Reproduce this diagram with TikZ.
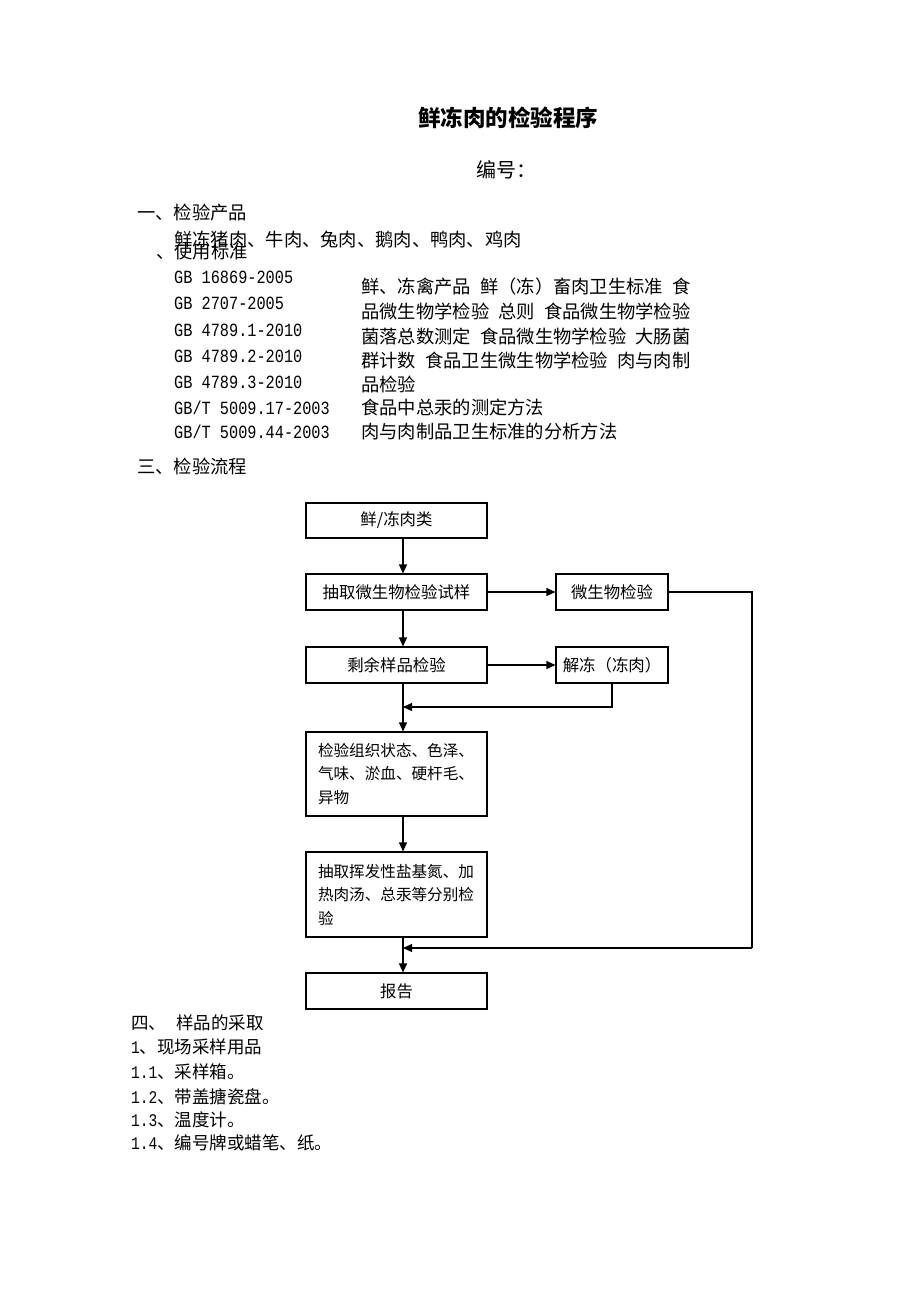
\documentclass[tikz,border=0pt]{standalone}
\usepackage{fontspec}
\setmainfont{Noto Sans CJK SC}
\newfontfamily\mono[FakeStretch=0.82]{Liberation Mono}
\usetikzlibrary{arrows.meta}
\newcommand{\dg}[1]{{\mono\fontsize{17.8}{20}\selectfont #1}}
\begin{document}
\begin{tikzpicture}[x=1pt,y=-1pt,
  box/.style={draw, line width=1.1pt, minimum width=181pt, minimum height=36pt, inner sep=0pt, font=\fontsize{16.4}{20}\selectfont},
  sbox/.style={box, minimum width=112pt},
  mbox/.style={draw, line width=1.1pt, minimum width=181pt, minimum height=85pt, inner xsep=12pt, inner ysep=0pt, text width=157pt, align=left, font=\fontsize{15.6}{23.5}\selectfont},
  arr/.style={-{Triangle[length=9pt,width=8pt]}, line width=1.1pt},
  ln/.style={line width=1.1pt},
  txt/.style={anchor=west, inner sep=0pt, font=\fontsize{18.3}{22}\selectfont},
  code/.style={anchor=west, inner sep=0pt, font=\mono\fontsize{18.6}{20}\selectfont},
  itm/.style={anchor=west, inner sep=0pt, font=\fontsize{17.5}{21}\selectfont}]
\useasboundingbox (0,0) rectangle (920,1302);

% header
\node[inner sep=0pt, font=\bfseries\fontsize{22.5}{26}\selectfont] (title) at (508,118) {鲜冻肉的检验程序};
\node[anchor=west, inner sep=0pt, font=\fontsize{20}{24}\selectfont] (num) at (476,170) {编号：};

\node[txt] (s1) at (137,213) {一、检验产品};
\node[txt] (p1) at (174,240) {鲜冻猪肉、牛肉、兔肉、鹅肉、鸭肉、鸡肉};
\node[txt] (s2) at (156,252) {、使用标准};

\node[code] (g1) at (174,277) {GB 16869-2005};
\node[code] (g2) at (174,303) {GB 2707-2005};
\node[code] (g3) at (174,330) {GB 4789.1-2010};
\node[code] (g4) at (174,356) {GB 4789.2-2010};
\node[code] (g5) at (174,382) {GB 4789.3-2010};
\node[code] (g6) at (174,408) {GB/T 5009.17-2003};
\node[code] (g7) at (174,432) {GB/T 5009.44-2003};

\node[txt] (r1) at (361,287) {鲜、冻禽产品\hspace{0.5em}鲜（冻）畜肉卫生标准\hspace{0.5em}食};
\node[txt] (r2) at (361,311) {品微生物学检验\hspace{0.5em}总则\hspace{0.5em}食品微生物学检验};
\node[txt] (r3) at (361,336) {菌落总数测定\hspace{0.5em}食品微生物学检验\hspace{0.5em}大肠菌};
\node[txt] (r4) at (361,360) {群计数\hspace{0.5em}食品卫生微生物学检验\hspace{0.5em}肉与肉制};
\node[txt] (r5) at (361,384) {品检验};
\node[txt] (r6) at (361,408) {食品中总汞的测定方法};
\node[txt] (r7) at (361,432) {肉与肉制品卫生标准的分析方法};

\node[txt] (s3) at (137,466) {三、检验流程};

% flowchart
\node[box, minimum height=35pt] (b1) at (396.5,520.5) {鲜/冻肉类};
\node[box] (b2) at (396.5,592) {抽取微生物检验试样};
\node[box] (b3) at (396.5,665) {剩余样品检验};
\node[sbox] (mb) at (612,592) {微生物检验};
\node[sbox] (jd) at (612,665) {解冻（冻肉）};
\node[mbox, minimum height=84pt] (b4) at (396.5,774) {检验组织状态、色泽、\\气味、淤血、硬杆毛、\\异物};
\node[mbox] (b5) at (396.5,894.5) {抽取挥发性盐基氮、加\\热肉汤、总汞等分别检\\验};
\node[box] (b6) at (396.5,991) {报告};

\coordinate (jx) at (403,0);
\coordinate (j1) at (403,707);
\coordinate (j2) at (403,948);
\coordinate (rc) at (752,948);

\draw[arr] (b1.south -| jx) -- (b2.north -| jx);
\draw[arr] (b2.south -| jx) -- (b3.north -| jx);
\draw[arr] (b3.south -| jx) -- (b4.north -| jx);
\draw[arr] (b4.south -| jx) -- (b5.north -| jx);
\draw[arr] (b5.south -| jx) -- (b6.north -| jx);
\draw[arr] (b2.east) -- (mb.west);
\draw[arr] (b3.east) -- (jd.west);
\draw[arr] (jd.south) |- (j1);
\draw[ln] (mb.east) -| (rc);
\draw[ln, line width=1.8pt] (752,592) -- (rc);
\draw[arr] (rc) -- (j2);

% bottom section
\node[itm] (t1) at (131,1023) {四、\hspace{10pt}样品的采取};
\node[itm] (t2) at (131,1047) {\dg{1}、现场采样用品};
\node[itm] (t3) at (131,1072) {\dg{1.1}、采样箱。};
\node[itm] (t4) at (131,1097) {\dg{1.2}、带盖搪瓷盘。};
\node[itm] (t5) at (131,1120) {\dg{1.3}、温度计。};
\node[itm] (t6) at (131,1143) {\dg{1.4}、编号牌或蜡笔、纸。};
\end{tikzpicture}
\end{document}
